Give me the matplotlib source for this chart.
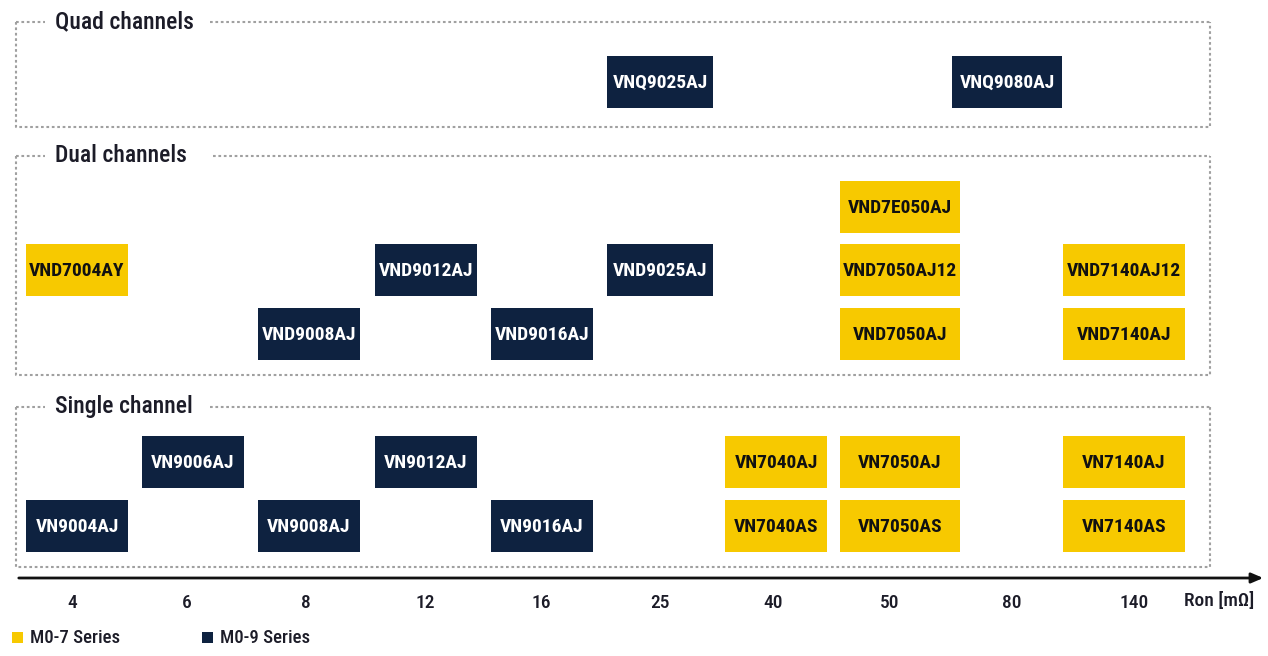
import matplotlib
matplotlib.use('Agg')
import matplotlib.pyplot as plt
from matplotlib.patches import Rectangle
from matplotlib import font_manager

# ---- data ----
ron_values = ['4', '6', '8', '12', '16', '25', '40', '50', '80', '140']
series_names = ['M0-7 Series', 'M0-9 Series']
series_colors = {'M0-7': '#F7C900', 'M0-9': '#0E2240'}

# (part, Ron column, row within group, series)
quad_parts = [
    ('VNQ9025AJ', '25', 0, 'M0-9'),
    ('VNQ9080AJ', '80', 0, 'M0-9'),
]
dual_parts = [
    ('VND7E050AJ', '50', 0, 'M0-7'),
    ('VND7004AY', '4', 1, 'M0-7'),
    ('VND9012AJ', '12', 1, 'M0-9'),
    ('VND9025AJ', '25', 1, 'M0-9'),
    ('VND7050AJ12', '50', 1, 'M0-7'),
    ('VND7140AJ12', '140', 1, 'M0-7'),
    ('VND9008AJ', '8', 2, 'M0-9'),
    ('VND9016AJ', '16', 2, 'M0-9'),
    ('VND7050AJ', '50', 2, 'M0-7'),
    ('VND7140AJ', '140', 2, 'M0-7'),
]
single_parts = [
    ('VN9006AJ', '6', 0, 'M0-9'),
    ('VN9012AJ', '12', 0, 'M0-9'),
    ('VN7040AJ', '40', 0, 'M0-7'),
    ('VN7050AJ', '50', 0, 'M0-7'),
    ('VN7140AJ', '140', 0, 'M0-7'),
    ('VN9004AJ', '4', 1, 'M0-9'),
    ('VN9008AJ', '8', 1, 'M0-9'),
    ('VN9016AJ', '16', 1, 'M0-9'),
    ('VN7040AS', '40', 1, 'M0-7'),
    ('VN7050AS', '50', 1, 'M0-7'),
    ('VN7140AS', '140', 1, 'M0-7'),
]

# ---- layout (pixel space) ----
W, H = 1268, 656
col_x = [77, 193, 309, 426, 542, 660, 776, 900, 1007, 1124]
col_w = [102, 102, 102, 102, 102, 106, 102, 120, 110, 122]
tick_x = [72, 187, 306, 425, 541, 660, 773, 890, 1012, 1134]
box_h = 52

# group: title, parts, frame top, frame bottom, row centres, end of title gap
groups = [
    ('Quad channels', quad_parts, 22, 127, [82], 210),
    ('Dual channels', dual_parts, 156, 375, [207, 270, 334], 213),
    ('Single channel', single_parts, 407, 567, [462, 526], 210),
]

# pick a narrow face if one is installed, else condensed DejaVu
names = {f.name for f in font_manager.fontManager.ttflist}
stretch = 'normal'
for cand in ['Liberation Sans Narrow', 'Roboto Condensed', 'Open Sans Condensed']:
    if cand in names:
        family = cand
        break
else:
    family = 'DejaVu Sans'
    stretch = 'condensed'
plt.rcParams['font.family'] = [family, 'DejaVu Sans']
plt.rcParams['font.stretch'] = stretch

fig = plt.figure(figsize=(W / 100, H / 100), dpi=100)
ax = fig.add_axes([0, 0, 1, 1])
ax.set_xlim(0, W)
ax.set_ylim(H, 0)
ax.axis('off')

frame_kw = dict(color='#a0a0a0', lw=1.5, linestyle=(0, (1.3, 1.3)))
left, right = 16, 1210
text_col = '#1c1c28'

for title, parts, top, bottom, rows, gap_end in groups:
    # dotted frame with a gap for the title
    ax.plot([left, 45], [top, top], **frame_kw)
    ax.plot([gap_end, right], [top, top], **frame_kw)
    ax.plot([left, left, right, right], [top, bottom, bottom, top], **frame_kw)
    ax.text(55, top, title, fontsize=17, color=text_col, va='center', ha='left',
            fontweight='medium', fontstretch=stretch)
    for part, ron, row, series in parts:
        i = ron_values.index(ron)
        cx, w, cy = col_x[i], col_w[i], rows[row]
        ax.add_patch(Rectangle((cx - w / 2, cy - box_h / 2), w, box_h,
                               facecolor=series_colors[series], edgecolor='none'))
        ax.text(cx, cy + 1, part, fontsize=14, fontweight='bold', ha='center', va='center',
                fontstretch=stretch,
                color='white' if series == 'M0-9' else '#111111')

# Ron axis
ax.annotate('', xy=(1266, 578), xytext=(16, 578),
            arrowprops=dict(arrowstyle='-|>,head_length=0.7,head_width=0.3',
                            color='#111111', lw=2))
for x, lab in zip(tick_x, ron_values):
    ax.text(x, 603, lab, fontsize=14, ha='center', va='center', color=text_col,
            fontweight='medium', fontstretch=stretch)
ax.text(1219, 601, 'Ron [mΩ]', fontsize=14, ha='center', va='center', color=text_col,
        fontweight='medium', fontstretch=stretch)

# legend
for lx, name, key in [(12, series_names[0], 'M0-7'), (202, series_names[1], 'M0-9')]:
    ax.add_patch(Rectangle((lx, 632), 11, 11, facecolor=series_colors[key], edgecolor='none'))
    ax.text(lx + 18, 638, name, fontsize=13.5, ha='left', va='center', color=text_col,
            fontweight='medium', fontstretch=stretch)

fig.savefig('out.png', dpi=100)
